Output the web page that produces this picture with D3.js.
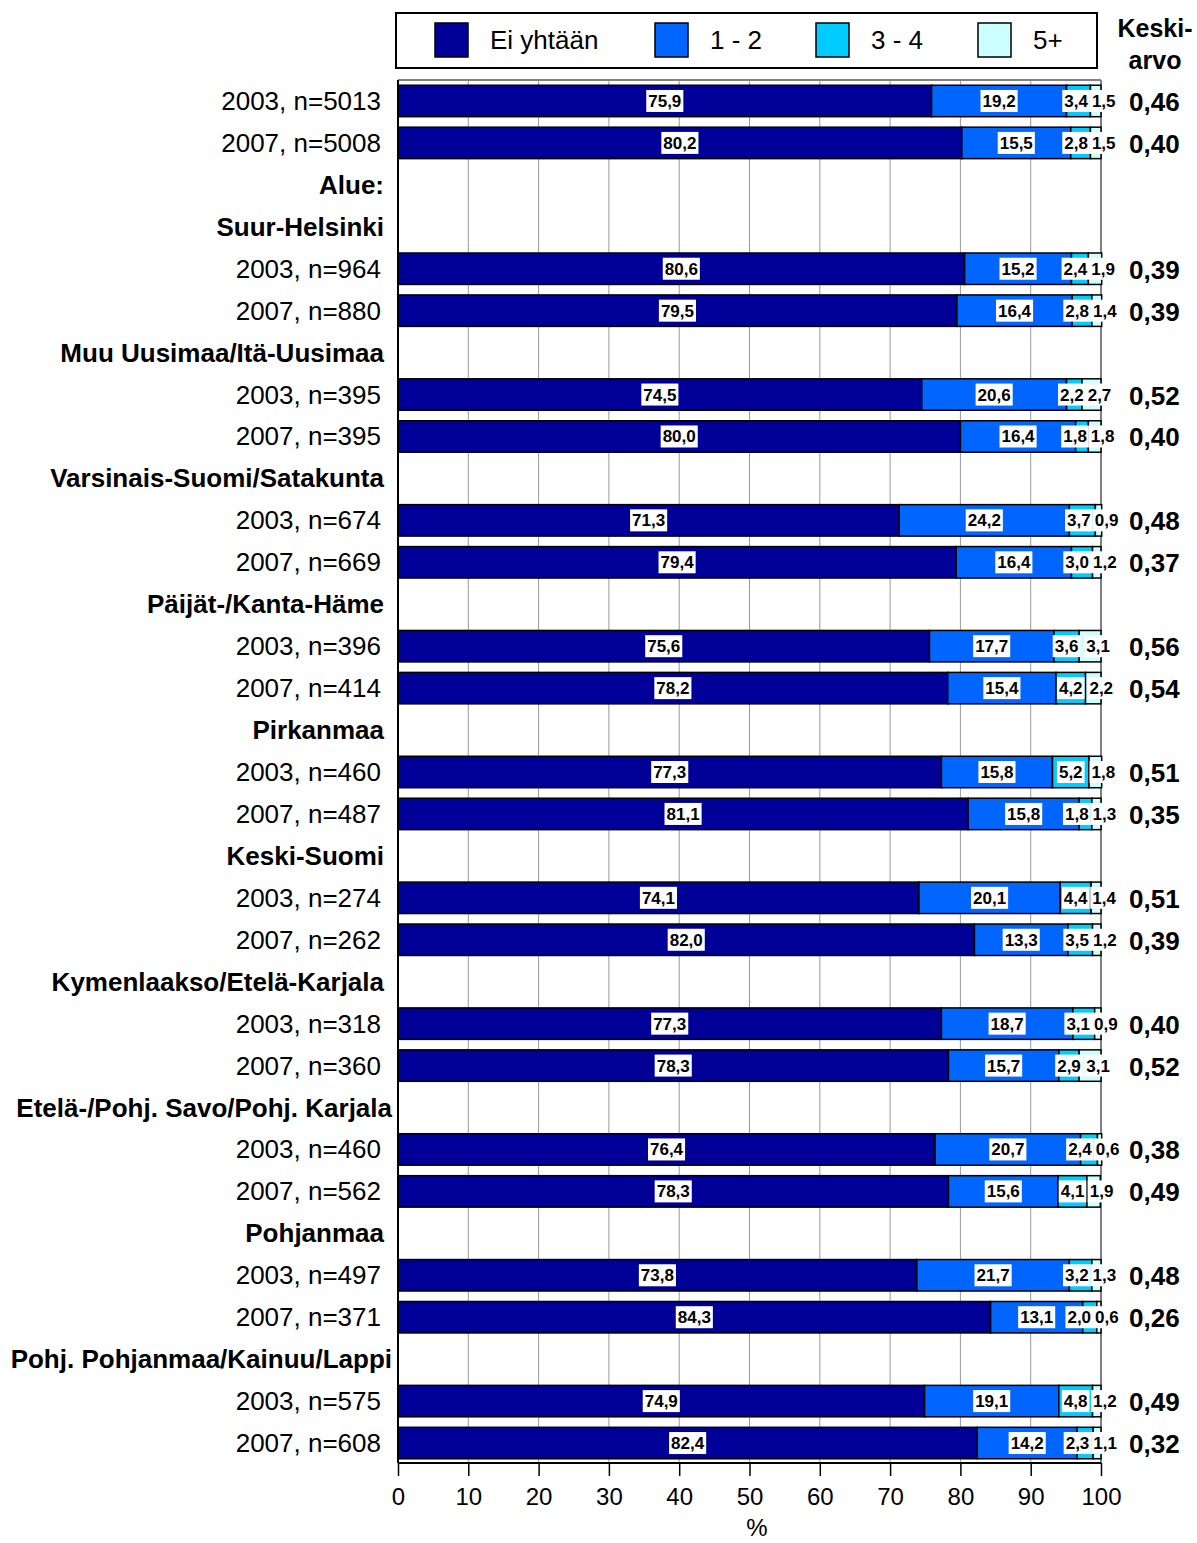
<!DOCTYPE html>
<html>
<head>
<meta charset="utf-8">
<script src="https://cdn.jsdelivr.net/npm/d3@7"></script>
<style>
  html, body { margin: 0; padding: 0; background: #fff; }
  svg { display: block; font-family: "Liberation Sans", Arial, sans-serif; }
</style>
</head>
<body>
<svg id="chart" width="1197" height="1543"></svg>
<script>
// ---- Data ----
const rowLabels = [
  "2003, n=5013", "2007, n=5008", "Alue:", "Suur-Helsinki",
  "2003, n=964", "2007, n=880", "Muu Uusimaa/Itä-Uusimaa",
  "2003, n=395", "2007, n=395", "Varsinais-Suomi/Satakunta",
  "2003, n=674", "2007, n=669", "Päijät-/Kanta-Häme",
  "2003, n=396", "2007, n=414", "Pirkanmaa",
  "2003, n=460", "2007, n=487", "Keski-Suomi",
  "2003, n=274", "2007, n=262", "Kymenlaakso/Etelä-Karjala",
  "2003, n=318", "2007, n=360", "Etelä-/Pohj. Savo/Pohj. Karjala",
  "2003, n=460", "2007, n=562", "Pohjanmaa",
  "2003, n=497", "2007, n=371", "Pohj. Pohjanmaa/Kainuu/Lappi",
  "2003, n=575", "2007, n=608"
];
const seriesNames = ["Ei yhtään", "1 - 2", "3 - 4", "5+"];
const eiYhtaan = [75.9, 80.2, null, null, 80.6, 79.5, null, 74.5, 80.0, null, 71.3, 79.4, null, 75.6, 78.2, null, 77.3, 81.1, null, 74.1, 82.0, null, 77.3, 78.3, null, 76.4, 78.3, null, 73.8, 84.3, null, 74.9, 82.4];
const yksiKaksi = [19.2, 15.5, null, null, 15.2, 16.4, null, 20.6, 16.4, null, 24.2, 16.4, null, 17.7, 15.4, null, 15.8, 15.8, null, 20.1, 13.3, null, 18.7, 15.7, null, 20.7, 15.6, null, 21.7, 13.1, null, 19.1, 14.2];
const kolmeNelja = [3.4, 2.8, null, null, 2.4, 2.8, null, 2.2, 1.8, null, 3.7, 3.0, null, 3.6, 4.2, null, 5.2, 1.8, null, 4.4, 3.5, null, 3.1, 2.9, null, 2.4, 4.1, null, 3.2, 2.0, null, 4.8, 2.3];
const viisiPlus = [1.5, 1.5, null, null, 1.9, 1.4, null, 2.7, 1.8, null, 0.9, 1.2, null, 3.1, 2.2, null, 1.8, 1.3, null, 1.4, 1.2, null, 0.9, 3.1, null, 0.6, 1.9, null, 1.3, 0.6, null, 1.2, 1.1];
const keskiarvo = [0.46, 0.40, null, null, 0.39, 0.39, null, 0.52, 0.40, null, 0.48, 0.37, null, 0.56, 0.54, null, 0.51, 0.35, null, 0.51, 0.39, null, 0.40, 0.52, null, 0.38, 0.49, null, 0.48, 0.26, null, 0.49, 0.32];
const xTicks = [0, 10, 20, 30, 40, 50, 60, 70, 80, 90, 100];
const colors = ["#000099", "#0066FF", "#00CCFF", "#CCFFFF"];

// ---- Setup ----
const svg = d3.select("#chart");
const FONT = '"Liberation Sans", Arial, sans-serif';
const x = d3.scaleLinear().domain([0, 100]).range([398, 1101]);
const y = d3.scaleBand().domain(d3.range(rowLabels.length)).range([80, 1464])
  .paddingInner(0.25).paddingOuter(0.125);
const fmt1 = v => d3.format(".1f")(v).replace(".", ",");
const fmt2 = v => d3.format(".2f")(v).replace(".", ",");
const series = [eiYhtaan, yksiKaksi, kolmeNelja, viisiPlus];

// ---- Grid ----
const plotTop = 80, plotBottom = 1463;
svg.append("g").selectAll("line").data(xTicks.slice(1, -1)).join("line")
  .attr("x1", d => x(d)).attr("x2", d => x(d))
  .attr("y1", plotTop).attr("y2", plotBottom)
  .attr("stroke", "#999").attr("stroke-width", 1);
svg.append("line").attr("x1", x(0)).attr("x2", x(100)).attr("y1", plotTop).attr("y2", plotTop)
  .attr("stroke", "#808080").attr("stroke-width", 2);
svg.append("line").attr("x1", x(100)).attr("x2", x(100)).attr("y1", plotTop).attr("y2", plotBottom)
  .attr("stroke", "#808080").attr("stroke-width", 2);

// ---- Bars ----
const rows = d3.range(rowLabels.length).filter(i => eiYhtaan[i] !== null);
const segs = [];
rows.forEach(i => {
  let cum = 0;
  series.forEach((s, k) => {
    segs.push({ row: i, k, v: s[i], x0: cum, x1: cum + s[i] });
    cum += s[i];
  });
});
svg.append("g").selectAll("rect").data(segs).join("rect")
  .attr("x", d => x(d.x0)).attr("width", d => x(d.x1) - x(d.x0))
  .attr("y", d => y(d.row)).attr("height", y.bandwidth())
  .attr("fill", d => colors[d.k])
  .attr("stroke", "#000").attr("stroke-width", 1.5);

// ---- Axes lines ----
svg.append("line").attr("x1", x(0)).attr("x2", x(0)).attr("y1", plotTop).attr("y2", plotBottom)
  .attr("stroke", "#000").attr("stroke-width", 2);
const xAxis = d3.axisBottom(x).tickValues(xTicks).tickSize(13).tickPadding(12).tickFormat(d3.format("d"));
const gx = svg.append("g").attr("transform", `translate(0,${plotBottom})`).call(xAxis);
gx.select(".domain").attr("stroke", "#000").attr("stroke-width", 2).attr("d", `M${x(0)},0H${x(100)}`);
gx.selectAll(".tick line").attr("stroke", "#000").attr("stroke-width", 1.5);
gx.selectAll(".tick text").attr("font-family", FONT).attr("font-size", 24).attr("fill", "#000");
svg.append("text").attr("x", 757).attr("y", 1536).attr("text-anchor", "middle")
  .attr("font-size", 24).attr("fill", "#000").text("%");

// ---- Value labels ----
const labG = svg.append("g");
rows.forEach(i => {
  const items = series.map((s, k) => {
    let cum = 0; for (let j = 0; j < k; j++) cum += series[j][i];
    return { k, v: s[i], cx: x(cum + s[i] / 2) };
  });
  items.forEach(it => { it.text = fmt1(it.v); });
  const tmp = labG.append("text").attr("font-size", 17).attr("font-weight", "bold");
  items.forEach(it => { tmp.text(it.text); it.w = tmp.node().getComputedTextLength() + 4; });
  tmp.remove();
  items[3].cx += 8;
  if (items[2].cx + items[2].w / 2 > items[3].cx - items[3].w / 2) {
    items[2].cx = items[3].cx - items[3].w / 2 - items[2].w / 2;
  }
  const cy = y(i) + y.bandwidth() / 2;
  items.forEach(it => {
    labG.append("rect").attr("x", it.cx - it.w / 2).attr("y", cy - 11)
      .attr("width", it.w).attr("height", 22).attr("fill", "#fff");
  });
  items.forEach(it => {
    labG.append("text").attr("x", it.cx).attr("y", cy + 6).attr("text-anchor", "middle")
      .attr("font-size", 17).attr("font-weight", "bold").attr("fill", "#000").text(it.text);
  });
});

// ---- Category labels ----
svg.append("g").selectAll("text").data(rowLabels).join("text")
  .attr("y", (d, i) => y(i) + y.bandwidth() / 2 + 9)
  .attr("text-anchor", "end")
  .attr("font-size", 26)
  .attr("font-weight", d => d.startsWith("20") ? "normal" : "bold")
  .attr("fill", "#000")
  .text(d => d)
  .each(function (d) {
    const w = this.getComputedTextLength();
    let xe = d.startsWith("20") ? 381 : 384;
    if (!d.startsWith("20") && w > 360) xe = 392;
    d3.select(this).attr("x", xe);
  });

// ---- Mean values ----
svg.append("g").selectAll("text").data(d3.range(rowLabels.length).filter(i => keskiarvo[i] !== null)).join("text")
  .attr("x", 1129).attr("y", i => y(i) + y.bandwidth() / 2 + 10)
  .attr("font-size", 26).attr("font-weight", "bold").attr("fill", "#000")
  .text(i => fmt2(keskiarvo[i]));
svg.append("text").attr("x", 1155).attr("y", 37).attr("text-anchor", "middle")
  .attr("font-size", 25).attr("font-weight", "bold").text("Keski-");
svg.append("text").attr("x", 1155).attr("y", 69).attr("text-anchor", "middle")
  .attr("font-size", 25).attr("font-weight", "bold").text("arvo");

// ---- Legend ----
svg.append("rect").attr("x", 396).attr("y", 13).attr("width", 701).attr("height", 55)
  .attr("fill", "#fff").attr("stroke", "#000").attr("stroke-width", 2);
const legX = [435, 655, 816, 978];
const legG = svg.append("g").selectAll("g").data(seriesNames).join("g")
  .attr("transform", (d, i) => `translate(${legX[i]},23)`);
legG.append("rect").attr("width", 33).attr("height", 34)
  .attr("fill", (d, i) => colors[i]).attr("stroke", "#000").attr("stroke-width", 1.5);
legG.append("text").attr("x", 55).attr("y", 26).attr("font-size", 26).attr("fill", "#000").text(d => d);
</script>
</body>
</html>
